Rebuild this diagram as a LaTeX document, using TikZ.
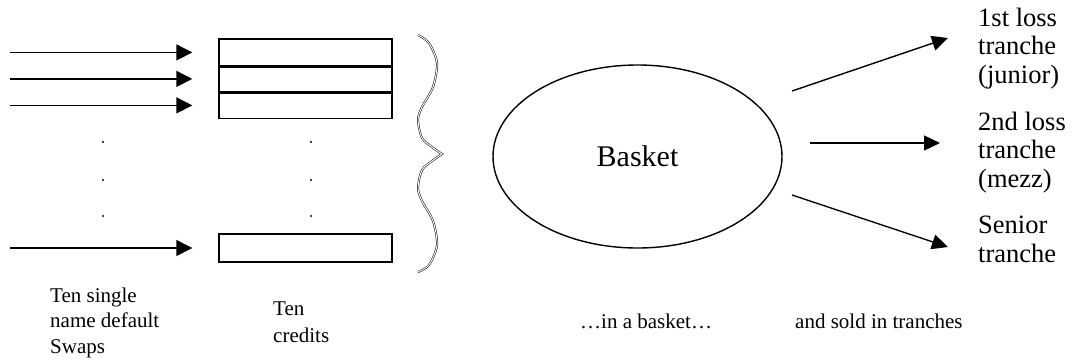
\documentclass[tikz,border=0pt]{standalone}
\usepackage{fontspec}
\setmainfont{Liberation Serif}
\usetikzlibrary{arrows.meta,shapes.geometric}

\begin{document}
\begin{tikzpicture}[x=1pt,y=-1pt,
  credit/.style={shape=rectangle,draw=black,line width=1.4pt,minimum width=173pt,minimum height=26.5pt,inner sep=0pt},
  feed/.style={line width=1.4pt,-{Triangle[length=16pt,width=16pt]}},
  lbl/.style={align=left,inner sep=0pt,anchor=base west,font=\fontsize{21}{25.5}\selectfont},
  tr/.style={lbl,font=\fontsize{26.5}{28.5}\selectfont}]
\def\bx{305.5};
\def\gap{26pt};

\useasboundingbox (0,0) rectangle (1071,360);

\foreach \i/\y in {1/52.4,2/78.9,3/105.4,4/248}{
  \node[credit] (c\i) at (\bx,\y) {};
  \coordinate (s\i) at (10,\y);
  \draw[feed] (s\i) -- ([xshift=-\gap]c\i.west);
}
\node[credit,minimum height=29.5pt] at (c4) {};
\draw[line width=2.4pt] (c1.south west) -- (c1.south east);
\draw[line width=2.4pt] (c2.south west) -- (c2.south east);

\foreach \x in {103,311}
  \foreach \y in {142,180,216}
    \fill (\x,\y) circle (1.2pt);

\draw[double,double distance=1pt,line width=0.5pt,line join=miter]
  plot[smooth] coordinates {(418,35) (429,43) (437,63) (433,87) (422,107) (418,120) (422,138) (432,147) (442,154)}
  -- plot[smooth] coordinates {(442,154) (432,161) (422,170) (418,188) (422,201) (433,221) (437,245) (429,265) (418,272)};

\node[ellipse,draw=black,line width=1.4pt,minimum width=289pt,minimum height=183pt,inner sep=0pt,font=\fontsize{30}{36}\selectfont] (bsk) at (637.5,156.5) {Basket};

\coordinate (o1) at (792,91);
\coordinate (t1) at (948,38);
\coordinate (o2) at (810,143);
\coordinate (t2) at (940,143);
\coordinate (o3) at (792,195);
\coordinate (t3) at (948,247);
\draw[feed,-{Triangle[length=16pt,width=15pt]}] (o1) -- (t1);
\draw[feed,-{Triangle[length=16pt,width=15pt]}] (o2) -- (t2);
\draw[feed,-{Triangle[length=16pt,width=15pt]}] (o3) -- (t3);

\node[tr] (jun) at (978,83) {1st loss\\tranche\\(junior)};
\node[tr] (mez) at (978,187) {2nd loss\\tranche\\(mezz)};
\node[tr] (sen) at (978,262) {Senior\\tranche};

\node[lbl] (cds) at (50,353) {Ten single\\name default\\Swaps};
\node[lbl,font=\fontsize{21}{27}\selectfont] (crd) at (273,342) {Ten\\credits};
\node[lbl] (inb) at (580,328) {…in a basket…};
\node[lbl] (sold) at (795,328) {and sold in tranches};
\end{tikzpicture}
\end{document}
